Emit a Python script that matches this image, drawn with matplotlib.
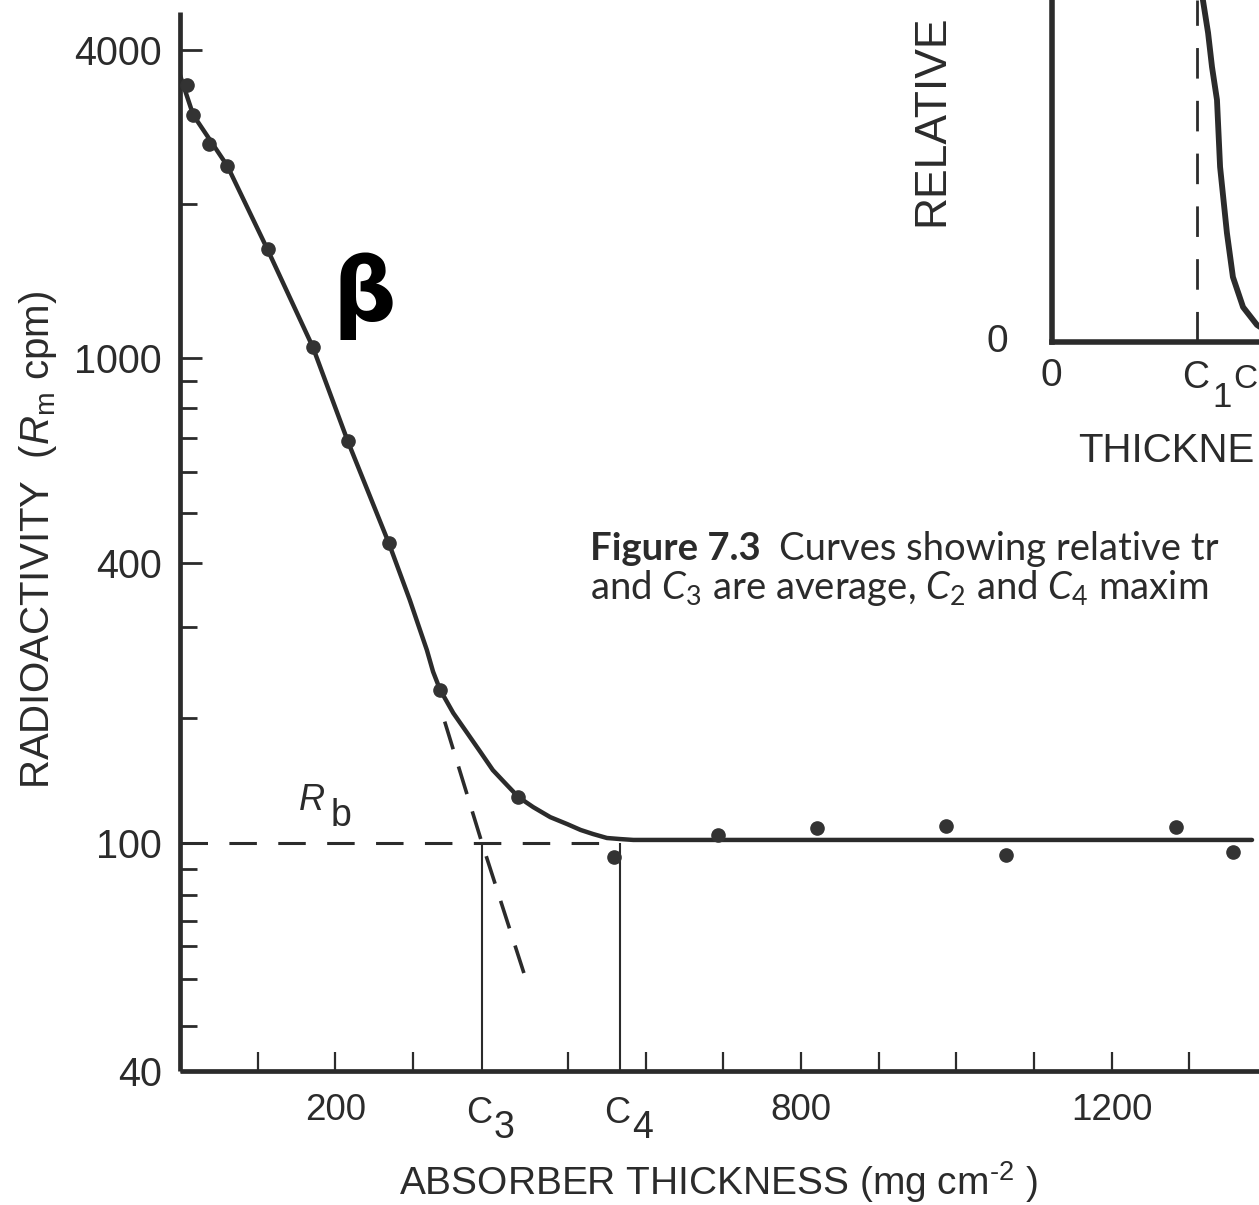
import numpy as np
import matplotlib
matplotlib.use("Agg")
import matplotlib.pyplot as plt
from matplotlib.ticker import FixedLocator, FixedFormatter, NullFormatter

W, H, DPI = 1259, 1205, 100
INK = "#2b2b2b"

plt.rcParams['font.family'] = ['Liberation Sans', 'DejaVu Sans']
plt.rcParams['mathtext.fontset'] = 'custom'
plt.rcParams['mathtext.rm'] = 'Liberation Sans'
plt.rcParams['mathtext.it'] = 'Liberation Sans:italic'
plt.rcParams['mathtext.sf'] = 'Lato'
plt.rcParams['mathtext.cal'] = 'Lato:italic'

# ---------------- data ----------------
thickness_pts = [9, 17, 37, 61, 113, 171, 216, 269, 335, 436, 559, 693, 821, 987, 1064, 1283, 1357]
activity_pts = [3420, 2990, 2620, 2370, 1630, 1050, 690, 437, 227, 129, 94.5, 104.5, 108.7, 109.8, 95.3, 109.2, 96.5]

curve_thickness = [0, 17, 61, 113, 171, 216, 269, 296, 307, 318, 326, 335, 352, 370, 387, 403,
                   421, 436, 455, 477, 499, 516, 532, 550, 567, 584, 610, 1381]
curve_activity = [3570, 2985, 2373, 1626, 1051, 690, 437, 339, 303, 271, 246, 227, 204.5, 184,
                  165.6, 149.8, 138, 129, 122, 115.4, 111, 107.5, 105.1, 102.8, 102.2, 101.7,
                  101.7, 101.7]

extrap_thickness = [341, 389, 448]
extrap_activity = [196, 100, 56.5]

background_rate = 100
c3_range = 389
c4_range = 567

y_major = [40, 100, 400, 1000, 4000]
y_major_labels = ['40', '100', '400', '1000', '4000']
y_minor = [48, 58, 66, 73, 81, 90, 200, 300, 500, 600, 700, 800, 900, 2000]
x_ticks = [100, 200, 300, 500, 600, 700, 800, 900, 1000, 1100, 1200, 1300]
x_labels = ['', '200', '', '', '', '', '800', '', '', '', '1200', '']

# inset (relative transmission vs thickness, arbitrary units)
inset_x = [7.15, 7.29, 7.54, 7.73, 7.97, 8.12, 8.45, 8.74, 9.23, 9.9, 10.5]
inset_y = [1.05, 1.0, 0.904, 0.804, 0.708, 0.512, 0.319, 0.19, 0.102, 0.05, 0.026]
c1_range = 7.0

# ---------------- hand-drawn log-like y scale of the original ----------------
_scale_vals = np.log10([10, 40, 100, 200, 1000, 4000, 100000])
_scale_h = np.array([-345, 0, 228, 353, 713, 1021, 1736], dtype=float)


def _fwd(v):
    v = np.asarray(v, dtype=float)
    return np.interp(np.log10(np.clip(v, 1e-6, None)), _scale_vals, _scale_h,
                     left=-1e4, right=1e4)


def _inv(h):
    h = np.asarray(h, dtype=float)
    return 10 ** np.interp(h, _scale_h, _scale_vals)


def fx(px):
    return px / W


def fy(py):
    return 1 - py / H


fig = plt.figure(figsize=(W / DPI, H / DPI), dpi=DPI)
fig.patch.set_facecolor('white')

ax = fig.add_axes([fx(180), fy(1071), fx(W) - fx(180), fy(12) - fy(1071)])
ax.set_yscale('function', functions=(_fwd, _inv))
ax.set_xlim(0, 1390)
ax.set_ylim(40, 4744)

for s in ('top', 'right'):
    ax.spines[s].set_visible(False)
for s in ('left', 'bottom'):
    ax.spines[s].set_linewidth(3.4)
    ax.spines[s].set_color(INK)
    ax.spines[s].set_capstyle('butt')

ax.yaxis.set_major_locator(FixedLocator(y_major))
ax.yaxis.set_major_formatter(FixedFormatter(y_major_labels))
ax.yaxis.set_minor_locator(FixedLocator(y_minor))
ax.yaxis.set_minor_formatter(NullFormatter())
ax.xaxis.set_major_locator(FixedLocator(x_ticks))
ax.xaxis.set_major_formatter(FixedFormatter(x_labels))
ax.xaxis.set_minor_locator(FixedLocator([]))

ax.tick_params(axis='y', which='major', direction='in', length=16, width=2.0,
               labelsize=28.5, pad=13, color=INK, labelcolor=INK)
ax.tick_params(axis='y', which='minor', direction='in', length=12, width=2.0, color=INK)
ax.tick_params(axis='x', which='major', direction='in', length=14, width=1.6,
               labelsize=26.5, pad=16, color=INK, labelcolor=INK)

# background line, range markers
ax.hlines(background_rate, 0, c4_range, colors=INK, lw=2.2, linestyles=(0, (9, 7)), zorder=2)
ax.vlines([c3_range, c4_range], 40, background_rate, colors=INK, lw=1.5, zorder=2)
# extrapolated straight part
ax.plot(extrap_thickness, extrap_activity, color=INK, lw=2.6, ls=(0, (8, 5)), zorder=2)
# fitted curve
ax.plot(curve_thickness, curve_activity, color=INK, lw=3.2, solid_capstyle='round',
        solid_joinstyle='round', zorder=3)
# measured points
ax.plot(thickness_pts, activity_pts, 'o', ms=9.5, color='#333333', mec='#333333', zorder=4)

# range labels C3, C4
for c, dig in ((c3_range, '3'), (c4_range, '4')):
    ax.annotate('C', xy=(c, 0), xycoords=('data', 'axes fraction'), xytext=(-3, -52),
                textcoords='offset pixels', ha='center', va='baseline', fontsize=26,
                color=INK, annotation_clip=False)
    ax.annotate(dig, xy=(c, 0), xycoords=('data', 'axes fraction'), xytext=(22, -67),
                textcoords='offset pixels', ha='center', va='baseline', fontsize=27,
                color=INK, annotation_clip=False)

ax.set_ylabel(r'RADIOACTIVITY  ($R_{\mathrm{m}}$ cpm)', fontsize=29, color=INK, va='center')
ax.yaxis.set_label_coords((38 - 180) / (W - 180), (1071 - 540) / (1071 - 12))
ax.set_xlabel(r'ABSORBER THICKNESS (mg cm$^{\text{-2}}$ )', fontsize=28, color=INK,
              va='baseline')
ax.xaxis.set_label_coords((718 - 180) / (W - 180), (1071 - 1195) / (1071 - 12))

# R_b label
fig.text(fx(299), fy(810), 'R', fontsize=26, style='italic', color=INK, va='baseline')
fig.text(fx(331), fy(826), 'b', fontsize=27, color=INK, va='baseline')

# beta
fig.text(fx(364), fy(296), 'β', fontsize=64, fontweight='bold', family='DejaVu Sans',
         color='black', ha='center', va='center')

# ---------------- inset (cut off by the page edge) ----------------
axi = fig.add_axes([fx(1052), fy(342), fx(W) - fx(1052), fy(0) - fy(342)])
axi.set_xlim(0, 10)
axi.set_ylim(0, 1)
axi.patch.set_alpha(0)
for s in ('top', 'right'):
    axi.spines[s].set_visible(False)
for s in ('left', 'bottom'):
    axi.spines[s].set_linewidth(4.0)
    axi.spines[s].set_color(INK)
axi.set_xticks([])
axi.set_yticks([])
axi.plot([c1_range, c1_range], [0, 1], color=INK, lw=2.0, ls=(0, (11, 8)))
axi.plot(inset_x, inset_y, color=INK, lw=4.2, solid_capstyle='round', clip_on=False)

fig.text(fx(932), fy(120), 'RELATIVE', rotation=90, fontsize=32, color=INK,
         ha='center', va='center')
fig.text(fx(997), fy(342), '0', fontsize=28, color=INK, ha='center', va='center')
fig.text(fx(1051), fy(376), '0', fontsize=28, color=INK, ha='center', va='center')
fig.text(fx(1196), fy(388), 'C', fontsize=27, color=INK, ha='center', va='baseline')
fig.text(fx(1222), fy(407), '1', fontsize=25, color=INK, ha='center', va='baseline')
fig.text(fx(1257), fy(388), 'C', fontsize=24, color=INK, ha='right', va='baseline')
fig.text(fx(1078), fy(462), 'THICKNE', fontsize=29, color=INK, ha='left', va='baseline')

# ---------------- caption (cut off by the page edge) ----------------
CAP = 27.5
t1 = fig.text(fx(590), fy(560), 'Figure 7.3', fontsize=CAP, fontweight='bold',
              family='Lato', color=INK, va='baseline')
renderer = fig.canvas.get_renderer()
bb = t1.get_window_extent(renderer)
fig.text((bb.x1 + 18) / W, fy(560), 'Curves showing relative tr', fontsize=CAP,
         family='Lato', color=INK, va='baseline')
fig.text(fx(590), fy(599),
         r'and $\mathcal{C}_{\mathsf{3}}$ are average, $\mathcal{C}_{\mathsf{2}}$ and '
         r'$\mathcal{C}_{\mathsf{4}}$ maxim',
         fontsize=CAP, family='Lato', color=INK, va='baseline')

fig.savefig('out.png', dpi=DPI, facecolor='white')
